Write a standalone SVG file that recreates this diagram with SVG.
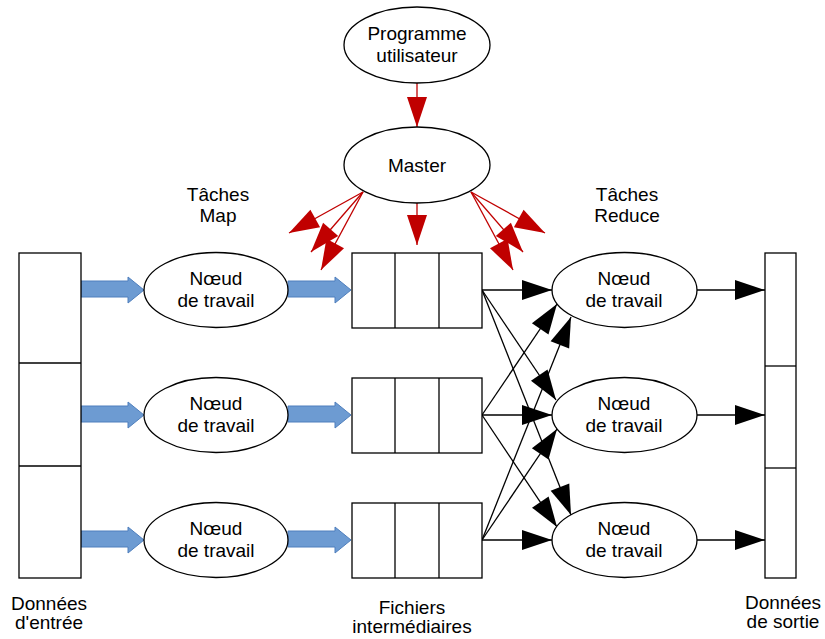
<svg xmlns="http://www.w3.org/2000/svg" width="825" height="639" viewBox="0 0 825 639">
<style>
text{font-family:"Liberation Sans",Arial,sans-serif;font-size:19px;fill:#000;text-anchor:middle}
.sh{fill:#fff;stroke:#000;stroke-width:1.3}
.red{stroke:#c00000;stroke-width:1.3;fill:none;marker-end:url(#rh)}
.blk{stroke:#000;stroke-width:1.3;fill:none;marker-end:url(#bh)}
.blue{fill:#6d9bd2;stroke:#4f7fbd;stroke-width:1}
</style>
<defs>
<marker id="rh" markerUnits="userSpaceOnUse" markerWidth="30" markerHeight="20" refX="30" refY="10" orient="auto" overflow="visible"><path d="M0,0 L30,10 L0,20 z" fill="#c00000"/></marker>
<marker id="bh" markerUnits="userSpaceOnUse" markerWidth="30" markerHeight="20" refX="30" refY="10" orient="auto" overflow="visible"><path d="M0,0 L30,10 L0,20 z" fill="#000"/></marker>
</defs>
<g id="connectors">
<line class="red" x1="417" y1="83" x2="417" y2="127"/>
<line class="red" x1="417" y1="203" x2="417" y2="245"/>
<line class="red" x1="363" y1="192" x2="289" y2="233"/>
<line class="red" x1="363" y1="192" x2="311" y2="252"/>
<line class="red" x1="363" y1="192" x2="321" y2="270"/>
<line class="red" x1="471" y1="192" x2="545" y2="233"/>
<line class="red" x1="471" y1="192" x2="523" y2="252"/>
<line class="red" x1="471" y1="192" x2="513" y2="270"/>
<path class="blue" d="M81,281 H128 V277 L144,290 L128,303 V297 H81 z"/>
<path class="blue" d="M81,406 H128 V402 L144,415 L128,428 V422 H81 z"/>
<path class="blue" d="M81,531 H128 V527 L144,540 L128,553 V547 H81 z"/>
<path class="blue" d="M288,281 H335 V277 L351,290 L335,303 V297 H288 z"/>
<path class="blue" d="M288,406 H335 V402 L351,415 L335,428 V422 H288 z"/>
<path class="blue" d="M288,531 H335 V527 L351,540 L335,553 V547 H288 z"/>
<line class="blk" x1="482" y1="290" x2="552" y2="290"/>
<line class="blk" x1="482" y1="415" x2="552" y2="415"/>
<line class="blk" x1="482" y1="540" x2="552" y2="540"/>
<line class="blk" x1="482" y1="290" x2="556" y2="400"/>
<line class="blk" x1="482" y1="290" x2="571" y2="515"/>
<line class="blk" x1="482" y1="415" x2="557" y2="304"/>
<line class="blk" x1="482" y1="415" x2="557" y2="527"/>
<line class="blk" x1="482" y1="540" x2="571" y2="317"/>
<line class="blk" x1="482" y1="540" x2="557" y2="429"/>
<line class="blk" x1="697" y1="290" x2="765" y2="290"/>
<line class="blk" x1="697" y1="415" x2="765" y2="415"/>
<line class="blk" x1="697" y1="540" x2="765" y2="540"/>
</g>
<g id="programme">
<ellipse class="sh" cx="417" cy="45" rx="73" ry="38"/>
<text x="417" y="40">Programme</text>
<text x="417" y="62">utilisateur</text>
</g>
<g id="master">
<ellipse class="sh" cx="417" cy="165" rx="73" ry="38"/>
<text x="417" y="172">Master</text>
</g>
<g id="label-map"><text x="218" y="201">Tâches</text><text x="218" y="222">Map</text></g>
<g id="label-reduce"><text x="627" y="201">Tâches</text><text x="627" y="222">Reduce</text></g>
<g id="input">
<rect class="sh" x="19" y="253" width="62" height="325"/>
<line x1="19" y1="363" x2="81" y2="363" stroke="#000" stroke-width="1.3"/>
<line x1="19" y1="466" x2="81" y2="466" stroke="#000" stroke-width="1.3"/>
<text x="49" y="610">Données</text><text x="49" y="629">d'entrée</text>
</g>
<g id="map1"><ellipse class="sh" cx="216" cy="290" rx="72" ry="37.5"/><text x="216" y="285">Nœud</text><text x="216" y="307">de travail</text></g>
<g id="map2"><ellipse class="sh" cx="216" cy="415" rx="72" ry="37.5"/><text x="216" y="410">Nœud</text><text x="216" y="432">de travail</text></g>
<g id="map3"><ellipse class="sh" cx="216" cy="540" rx="72" ry="37.5"/><text x="216" y="535">Nœud</text><text x="216" y="557">de travail</text></g>
<g id="files1"><rect class="sh" x="352" y="253" width="130" height="75"/><line x1="395" y1="253" x2="395" y2="328" stroke="#000" stroke-width="1.3"/><line x1="439" y1="253" x2="439" y2="328" stroke="#000" stroke-width="1.3"/></g>
<g id="files2"><rect class="sh" x="352" y="378" width="130" height="75"/><line x1="395" y1="378" x2="395" y2="453" stroke="#000" stroke-width="1.3"/><line x1="439" y1="378" x2="439" y2="453" stroke="#000" stroke-width="1.3"/></g>
<g id="files3"><rect class="sh" x="352" y="503" width="130" height="75"/><line x1="395" y1="503" x2="395" y2="578" stroke="#000" stroke-width="1.3"/><line x1="439" y1="503" x2="439" y2="578" stroke="#000" stroke-width="1.3"/></g>
<g id="label-files"><text x="412" y="614">Fichiers</text><text x="412" y="633">intermédiaires</text></g>
<g id="reduce1"><ellipse class="sh" cx="624.5" cy="290" rx="72.5" ry="37.5"/><text x="624" y="285">Nœud</text><text x="624" y="307">de travail</text></g>
<g id="reduce2"><ellipse class="sh" cx="624.5" cy="415" rx="72.5" ry="37.5"/><text x="624" y="410">Nœud</text><text x="624" y="432">de travail</text></g>
<g id="reduce3"><ellipse class="sh" cx="624.5" cy="540" rx="72.5" ry="37.5"/><text x="624" y="535">Nœud</text><text x="624" y="557">de travail</text></g>
<g id="output">
<rect class="sh" x="765" y="253" width="31" height="325"/>
<line x1="765" y1="366" x2="796" y2="366" stroke="#000" stroke-width="1.3"/>
<line x1="765" y1="468" x2="796" y2="468" stroke="#000" stroke-width="1.3"/>
<text x="783" y="609">Données</text><text x="783" y="628">de sortie</text>
</g>
</svg>
